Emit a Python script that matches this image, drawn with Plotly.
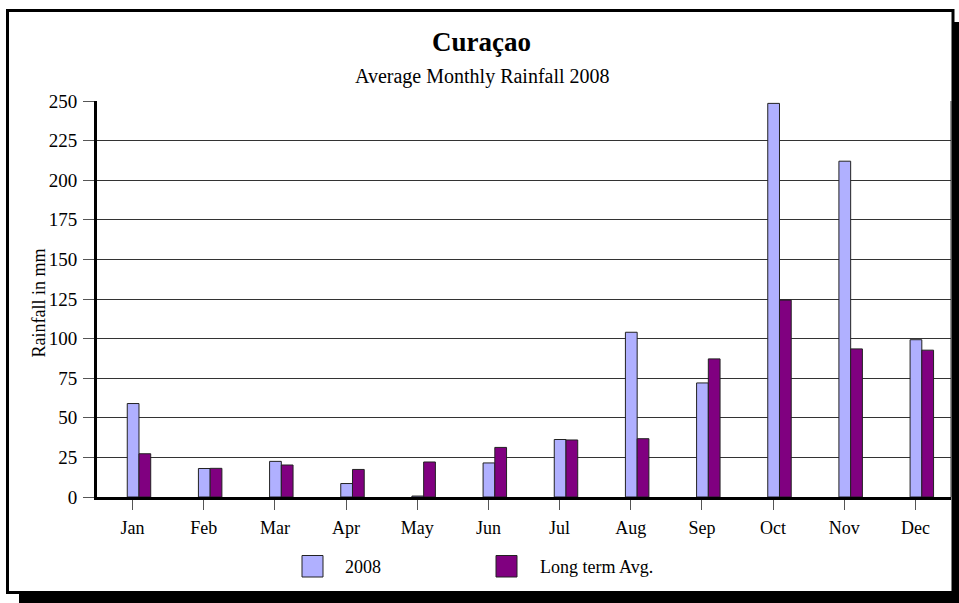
import plotly.graph_objects as go

# Monthly rainfall, Curaçao (mm)
months = ["Jan", "Feb", "Mar", "Apr", "May", "Jun",
          "Jul", "Aug", "Sep", "Oct", "Nov", "Dec"]
rain_2008 = [59, 18, 22.5, 8.5, 0.6, 21.5, 36.3, 104, 72, 248.5, 212, 99.3]
rain_long_term = [27.3, 18.1, 20.2, 17.4, 22.1, 31.3, 36, 36.8, 87.2, 124.3, 93.5, 92.7]
series_names = ["2008", "Long term Avg."]
series_colors = ["#B0B0FF", "#800080"]
y_ticks = [0, 25, 50, 75, 100, 125, 150, 175, 200, 225, 250]

FONT = "Liberation Serif, Times New Roman, serif"
W, H = 959, 603
L, R, T, B = 97, 8, 101, 106
PW, PH = W - L - R, H - T - B


def px_x(x):
    return (x - L) / PW


def px_y(y):
    return (H - B - y) / PH


fig = go.Figure()
bar_width = 0.165
offsets = [-0.075, 0.09]
for name, vals, col, off in zip(series_names, [rain_2008, rain_long_term],
                                series_colors, offsets):
    fig.add_trace(go.Bar(
        x=months, y=vals, name=name,
        marker=dict(color=col, line=dict(color="#222222", width=1)),
        width=bar_width, offset=off, showlegend=False,
    ))

shapes = []
# drop shadow and white frame around the whole chart
shapes.append(dict(type="rect", xref="paper", yref="paper", layer="below",
                   x0=px_x(19), x1=px_x(975), y0=px_y(22), y1=px_y(620),
                   fillcolor="black", line=dict(width=0)))
shapes.append(dict(type="rect", xref="paper", yref="paper", layer="below",
                   x0=px_x(7.5), x1=px_x(953), y0=px_y(10.5), y1=px_y(592.5),
                   fillcolor="white", line=dict(color="black", width=3)))
# thin right border of the plot area
shapes.append(dict(type="line", xref="paper", yref="paper", layer="above",
                   x0=1, x1=1, y0=0, y1=1, line=dict(color="#333333", width=1)))

annotations = [
    dict(text="<b>Curaçao</b>", xref="paper", yref="paper", x=px_x(481), y=px_y(42),
         xanchor="center", yanchor="middle", showarrow=False,
         font=dict(family=FONT, size=27, color="black")),
    dict(text="Average Monthly Rainfall 2008", xref="paper", yref="paper",
         x=px_x(482), y=px_y(76), xanchor="center", yanchor="middle", showarrow=False,
         font=dict(family=FONT, size=20, color="black")),
    dict(text="Rainfall in mm", xref="paper", yref="paper", x=px_x(38.5), y=px_y(303),
         xanchor="center", yanchor="middle", textangle=-90, showarrow=False,
         font=dict(family=FONT, size=18, color="black")),
]

# legend drawn as square swatches with labels beneath the plot
legend_boxes = [(302, 323), (496, 517)]
legend_text_x = [345, 540]
for (bx0, bx1), tx, name, col in zip(legend_boxes, legend_text_x, series_names, series_colors):
    shapes.append(dict(type="rect", xref="paper", yref="paper", layer="above",
                       x0=px_x(bx0), x1=px_x(bx1), y0=px_y(555.5), y1=px_y(577),
                       fillcolor=col, line=dict(color="#222222", width=1)))
    annotations.append(dict(text=name, xref="paper", yref="paper", x=px_x(tx - 2), y=px_y(567),
                            xanchor="left", yanchor="middle", showarrow=False,
                            font=dict(family=FONT, size=18, color="black")))

fig.update_layout(
    width=W, height=H,
    margin=dict(l=L, r=R, t=T, b=B, pad=0),
    paper_bgcolor="white",
    plot_bgcolor="rgba(0,0,0,0)",
    barmode="overlay",
    font=dict(family=FONT, size=19, color="black"),
    shapes=shapes,
    annotations=annotations,
    xaxis=dict(
        type="category", categoryorder="array", categoryarray=months,
        range=[-0.5, 11.5],
        showline=True, linewidth=3, linecolor="black",
        ticks="outside", ticklen=10, tickcolor="#555555", tickwidth=1,
        showgrid=False, ticklabelstandoff=2,
        tickfont=dict(family=FONT, size=18, color="black"),
    ),
    yaxis=dict(
        range=[0, 250], tickvals=y_ticks,
        showline=True, linewidth=3, linecolor="black",
        ticks="outside", ticklen=11, tickcolor="#555555", tickwidth=1,
        showgrid=True, gridcolor="#333333", gridwidth=1,
        zeroline=False, ticklabelstandoff=2,
        tickfont=dict(family=FONT, size=19, color="black"),
    ),
)

fig.write_html("out.html")
